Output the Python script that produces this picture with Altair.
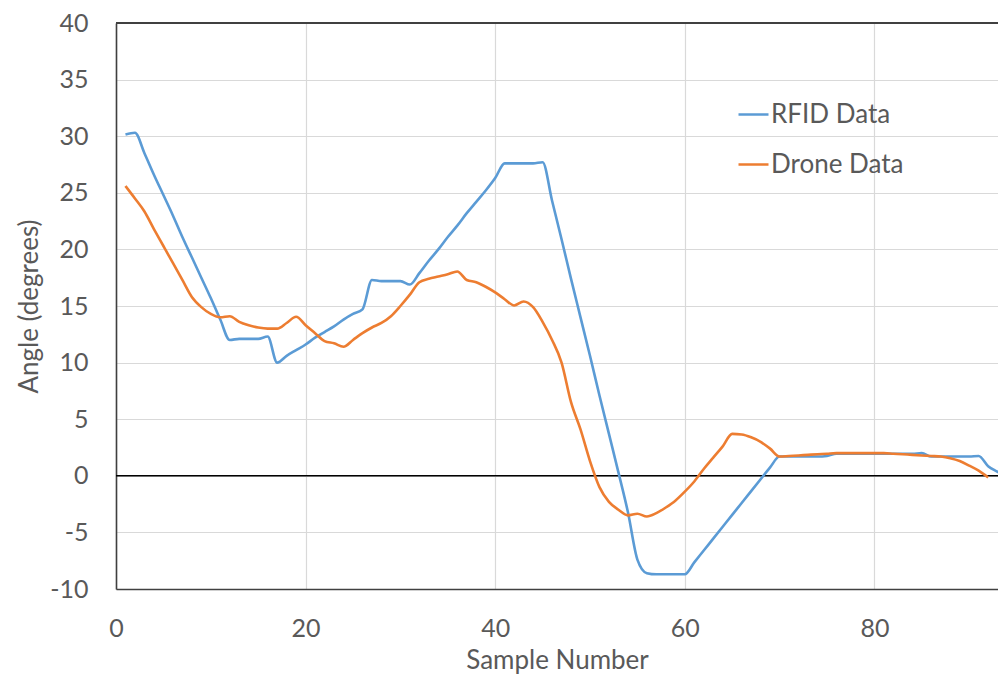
import altair as alt
import pandas as pd

# ---- data ----
rfid_x = list(range(1, 95))
rfid_y = [
    30.15, 30.3, 28.5, 26.6, 24.8, 23.0, 21.1, 19.3, 17.5, 15.7,
    13.8, 12.0, 12.1, 12.1, 12.1, 12.3, 10.0, 10.6, 11.1, 11.6,
    12.2, 12.7, 13.2, 13.8, 14.3, 14.7, 17.3, 17.2, 17.2, 17.2,
    16.9, 17.9, 19.0, 20.0, 21.1, 22.1, 23.2, 24.2, 25.2, 26.3,
    27.6, 27.6, 27.6, 27.6, 27.7, 24.3, 20.9, 17.4, 14.0, 10.6,
    7.1, 3.7, 0.3, -3.2, -7.4, -8.6, -8.7, -8.7, -8.7, -8.7,
    -7.65, -6.6, -5.55, -4.5, -3.45, -2.4, -1.35, -0.3, 0.75, 1.7,
    1.7, 1.7, 1.7, 1.7, 1.75, 1.95, 1.95, 1.95, 1.95, 1.95,
    1.95, 1.95, 1.95, 1.95, 2.0, 1.7, 1.7, 1.7, 1.7, 1.7,
    1.75, 0.85, 0.35, -0.15,
]
drone_x = list(range(1, 93))
drone_y = [
    25.6, 24.5, 23.35, 21.8, 20.3, 18.8, 17.3, 15.8, 14.9, 14.3,
    14.0, 14.1, 13.6, 13.3, 13.1, 13.0, 13.0, 13.5, 14.05, 13.3,
    12.6, 11.9, 11.7, 11.4, 12.0, 12.6, 13.1, 13.5, 14.1, 15.0,
    16.0, 17.1, 17.4, 17.6, 17.8, 18.05, 17.3, 17.1, 16.7, 16.2,
    15.6, 15.05, 15.4, 14.9, 13.6, 12.0, 10.0, 6.5, 4.1, 1.3,
    -1.0, -2.3, -3.0, -3.5, -3.35, -3.6, -3.3, -2.8, -2.2, -1.4,
    -0.5, 0.6, 1.6, 2.6, 3.7, 3.65, 3.4, 3.0, 2.4, 1.7,
    1.75, 1.8, 1.85, 1.9, 1.95, 2.0, 2.0, 2.0, 2.0, 2.0,
    2.0, 1.95, 1.9, 1.85, 1.8, 1.75, 1.7, 1.55, 1.3, 0.9,
    0.45, -0.15,
]
series_names = ["RFID Data", "Drone Data"]
series_colors = ["#5B9BD5", "#ED7D31"]
x_ticks = [0, 20, 40, 60, 80]
y_ticks = [-10, -5, 0, 5, 10, 15, 20, 25, 30, 35, 40]

df = pd.concat([
    pd.DataFrame({"sample": rfid_x, "angle": rfid_y, "series": series_names[0]}),
    pd.DataFrame({"sample": drone_x, "angle": drone_y, "series": series_names[1]}),
], ignore_index=True)

FONT = "Lato"
TXT = "#595959"

x_enc = alt.X(
    "sample:Q",
    scale=alt.Scale(domain=[0, 93.04], nice=False, zero=False),
    axis=alt.Axis(
        values=x_ticks, title="Sample Number", grid=True, gridColor="#d9d9d9",
        gridWidth=1.2, domain=True, domainColor="#404040", domainWidth=1.6,
        ticks=False, tickSize=0, labelFlush=False, labelExpr="toString(datum.value)",
        labelFont=FONT, labelFontSize=25, labelColor=TXT,
        labelPadding=27, titleFont=FONT, titleFontSize=26, titleFontWeight="normal",
        titleColor=TXT, titlePadding=6,
    ),
)
y_enc = alt.Y(
    "angle:Q",
    scale=alt.Scale(domain=[-10, 40], nice=False),
    axis=alt.Axis(
        values=y_ticks, title="Angle (degrees)", grid=True, gridColor="#d9d9d9",
        gridWidth=1.2, domain=True, domainColor="#404040", domainWidth=1.6,
        ticks=False, tickSize=0, labelFlush=False, labelExpr="toString(datum.value)",
        labelFont=FONT, labelFontSize=25, labelColor=TXT,
        labelPadding=28, titleFont=FONT, titleFontSize=26, titleFontWeight="normal",
        titleColor=TXT, titlePadding=7,
    ),
)
color_enc = alt.Color(
    "series:N",
    scale=alt.Scale(domain=series_names, range=series_colors),
    legend=alt.Legend(
        title=None, orient="none", legendX=621, legendY=75, symbolType="stroke",
        symbolSize=900, symbolStrokeWidth=2.5, labelFont=FONT, labelFontSize=26,
        labelColor=TXT, labelOffset=1, rowPadding=20, padding=0,
    ),
)

base = alt.Chart(df)
blue = base.transform_filter(alt.datum.series == series_names[0]).mark_line(
    interpolate="monotone", strokeWidth=2.6, clip=True
).encode(x=x_enc, y=y_enc, color=color_enc)
orange = base.transform_filter(alt.datum.series == series_names[1]).mark_line(
    interpolate="monotone", strokeWidth=2.6, clip=True
).encode(x=x_enc, y=y_enc, color=color_enc)

zero_line = alt.Chart(pd.DataFrame({"v": [0]})).mark_rule(
    color="#000000", strokeWidth=1.4
).encode(y=alt.Y("v:Q"))
top_line = alt.Chart(pd.DataFrame({"v": [40]})).mark_rule(
    color="#404040", strokeWidth=1.8
).encode(y=alt.Y("v:Q"))

chart = alt.layer(zero_line, top_line, blue, orange).properties(
    width=882, height=566,
    autosize=alt.AutoSizeParams(type="none"),
    padding={"left": 108, "top": 15, "right": 0, "bottom": 87},
    background="white",
).configure_view(stroke="transparent")

chart.save("out.html", embed_options={"renderer": "svg", "actions": False})
